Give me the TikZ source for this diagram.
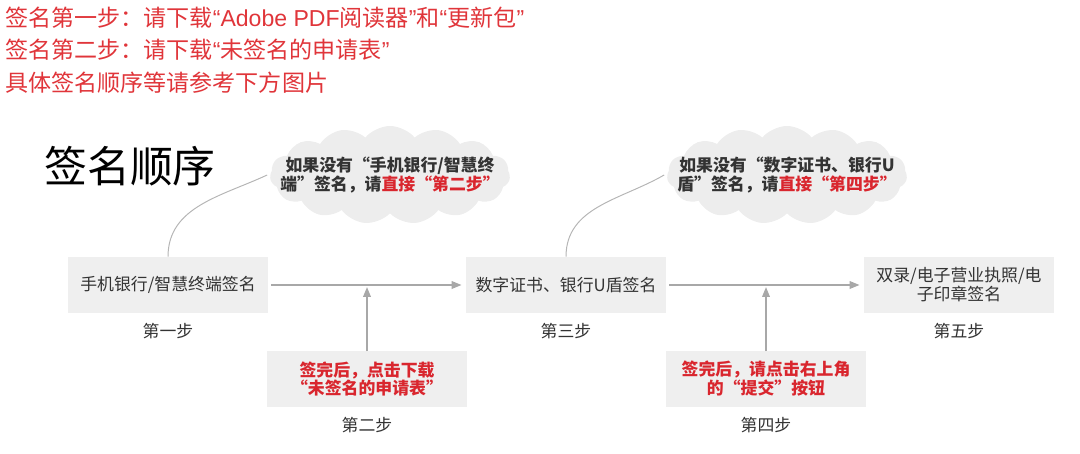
\documentclass[tikz,border=0pt]{standalone}
\usepackage{fontspec}
\setmainfont{Noto Sans CJK SC}
\newfontfamily\latinfont{Liberation Sans}
\usetikzlibrary{arrows.meta,positioning,shapes.symbols}
\definecolor{boxgray}{HTML}{EFEFEF}
\definecolor{cloudgray}{HTML}{EDEDED}
\definecolor{linegray}{HTML}{A8A8A8}
\definecolor{txtgray}{HTML}{333333}
\definecolor{txtred}{HTML}{D9262E}
\definecolor{headred}{HTML}{E0353A}
\newcommand{\latq}[1]{{\latinfont #1}}
\begin{document}
\begin{tikzpicture}[x=0.025cm, y=-0.025cm,
    font=\fontsize{12}{13.5}\selectfont, text=txtgray,
    stepbox/.style={fill=boxgray, align=center, inner sep=2pt,
      minimum width=5cm, minimum height=1.4cm},
    tipbox/.style={stepbox, minimum height=1.375cm, text=txtred,
      font=\fontsize{12}{13.5}\selectfont\bfseries},
    steplbl/.style={inner sep=0pt},
    bubble/.style={cloud, cloud puffs=15, cloud puff arc=100, cloud ignores aspect,
      fill=cloudgray, minimum width=6cm, minimum height=2.45cm},
    bubtxt/.style={align=center, font=\fontsize{12}{13.5}\selectfont\bfseries},
    arr/.style={-{Triangle[length=7pt,width=5.5pt]}, draw=linegray, line width=0.9pt},
    link/.style={draw=linegray!85, line width=0.7pt},
    head/.style={anchor=west, inner sep=0pt, text=headred,
      font=\fontsize{16.4}{20}\selectfont},
  ]
  \useasboundingbox (0,0) rectangle (1080,454);

  % red notes at the top
  \node[head] (h1) at (5,18) {签名第一步：请下载\latq{“Adobe PDF}阅读器\latq{”}和\latq{“}更新包\latq{”}};
  \node[head] (h2) at (5,50) {签名第二步：请下载\latq{“}未签名的申请表\latq{”}};
  \node[head] (h3) at (5,83) {具体签名顺序等请参考下方图片};
  \node[inner sep=0pt, text=black, font=\fontsize{30.5}{32}\selectfont] (title) at (130,166) {签名顺序};

  % the five steps
  \node[stepbox] (s1) at (168,285) {手机银行/智慧终端签名};
  \node[stepbox] (s3) at (566,285) {数字证书、银行U盾签名};
  \node[stepbox, minimum width=4.75cm] (s5) at (959,285) {双录/电子营业执照/电\\子印章签名};
  \node[tipbox] (s2) at (367,379) {签完后，点击下载\\“未签名的申请表”};
  \node[tipbox] (s4) at (766,379) {签完后，请点击右上角\\的“提交”按钮};

  \node[steplbl, below=2.5mm of s1] (l1) {第一步};
  \node[steplbl, below=2.5mm of s2] (l2) {第二步};
  \node[steplbl, below=2.5mm of s3] (l3) {第三步};
  \node[steplbl, below=2.5mm of s4] (l4) {第四步};
  \node[steplbl, below=2.5mm of s5] (l5) {第五步};

  \draw[arr, shorten <=2pt, shorten >=3pt] (s1) -- (s3);
  \draw[arr, shorten <=2pt, shorten >=3pt] (s3) -- (s5);
  \draw[arr, shorten >=1.5pt] (s2) -- (s2 |- s1.east);
  \draw[arr, shorten >=1.5pt] (s4) -- (s4 |- s3.east);

  % hints in clouds
  \node[bubble] (c1) at (390,175) {};
  \node[bubtxt] (c1t) at (c1) {如果没有“手机银行/智慧终\\端”签名，请\textcolor{txtred}{直接“第二步”}};
  \node[bubble] (c2) at (787,175) {};
  \node[bubtxt] (c2t) at (c2) {如果没有“数字证书、银行U\\盾”签名，请\textcolor{txtred}{直接“第四步”}};
  \draw[link] (s1.north) to[out=90, in=205] ([xshift=-2pt]c1.west);
  \draw[link] (s3.north) to[out=90, in=210] ([xshift=-2pt]c2.west);
\end{tikzpicture}
\end{document}
